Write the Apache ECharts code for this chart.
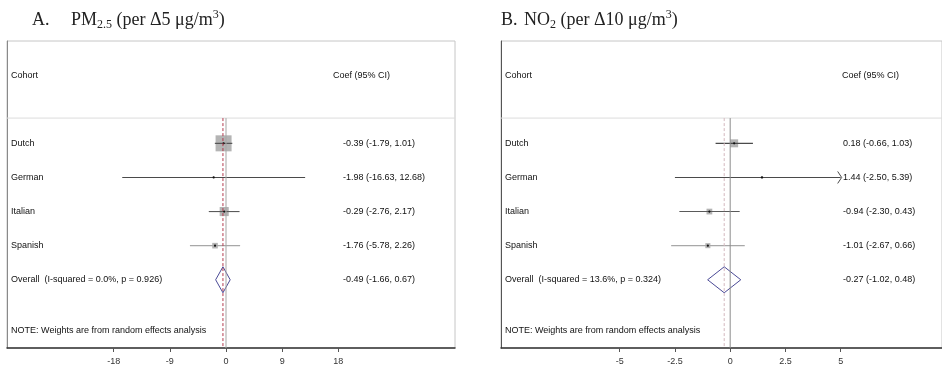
<!DOCTYPE html>
<html>
<head>
<meta charset="utf-8">
<script src="https://cdn.jsdelivr.net/npm/echarts@6/dist/echarts.min.js"></script>
<style>
  html, body { margin: 0; padding: 0; background: #fff; }
  #chart { width: 942px; height: 367px; }
</style>
</head>
<body>
<div id="chart"></div>
<script>
// Cohort-level estimates (coefficient and 95% CI) for each exposure
const cohorts = ['Dutch', 'German', 'Italian', 'Spanish'];

const pmCoef   = [-0.39, -1.98, -0.29, -1.76];
const pmLower  = [-1.79, -16.63, -2.76, -5.78];
const pmUpper  = [1.01, 12.68, 2.17, 2.26];
const pmWeight = [68.9, 0.6, 22.1, 8.4];          // random-effects weights (%)
const pmOverall = [-0.49, -1.66, 0.67];           // pooled coef, lower, upper
const pmHet = 'Overall  (I-squared = 0.0%, p = 0.926)';
const pmTicks = [-18, -9, 0, 9, 18];

const no2Coef   = [0.18, 1.44, -0.94, -1.01];
const no2Lower  = [-0.66, -2.50, -2.30, -2.67];
const no2Upper  = [1.03, 5.39, 0.43, 0.66];
const no2Weight = [50, 4, 26, 20];
const no2Overall = [-0.27, -1.02, 0.48];
const no2Het = 'Overall  (I-squared = 13.6%, p = 0.324)';
const no2Ticks = [-5, -2.5, 0, 2.5, 5];

const noteText = 'NOTE: Weights are from random effects analysis';

// Row layout on the vertical value axis (inverse)
const ROW_HEADER = -1, ROW_SEP = 0.26, ROW_OVERALL = 5, ROW_NOTE = 6.5, ROW_END = 7;

const SANS = '"Liberation Sans", Arial, sans-serif';
const SERIF = '"Liberation Serif", "DejaVu Serif", serif';
const ciColor = { Dutch: '#4a4a4a', German: '#4a4a4a', Italian: '#5a5a5a', Spanish: '#a8a8a8' };

const fmt = (c, l, u) => `${c.toFixed(2)} (${l.toFixed(2)}, ${u.toFixed(2)})`;

const panels = [
  {
    coef: pmCoef, lower: pmLower, upper: pmUpper, weight: pmWeight, overall: pmOverall, het: pmHet, ticks: pmTicks,
    grid: { left: 7, top: 41, width: 448, height: 307 },
    xMin: -35.1, xMax: 36.7,
    labelX: -34.45, headX: 17.15, valX: 18.75,
    boxScale: 1.93,
    zeroColor: '#a6a6a6', refColor: '#b23a4e', leftLine: '#8a8a8a'
  },
  {
    coef: no2Coef, lower: no2Lower, upper: no2Upper, weight: no2Weight, overall: no2Overall, het: no2Het, ticks: no2Ticks,
    grid: { left: 501, top: 41, width: 446, height: 307 },
    xMin: -10.37, xMax: 9.585,
    labelX: -10.19, headX: 5.06, valX: 5.11,
    boxScale: 1.13,
    zeroColor: '#8c8c8c', refColor: '#d4b9be', leftLine: '#555555'
  }
];

const grids = [], xAxes = [], yAxes = [], series = [];

panels.forEach((p, k) => {
  grids.push(Object.assign({ show: true, borderColor: '#c6c6c6', borderWidth: 1, backgroundColor: '#fff' }, p.grid));
  xAxes.push({
    gridIndex: k, type: 'value', min: p.xMin, max: p.xMax,
    axisLine: { show: true, onZero: false, lineStyle: { color: '#333', width: 1.5 } },
    axisTick: { show: true, customValues: p.ticks, length: 4, lineStyle: { color: '#555' } },
    axisLabel: { customValues: p.ticks, formatter: v => String(v), color: '#333', fontSize: 9, fontFamily: SANS, margin: 9 },
    splitLine: { show: false }
  });
  yAxes.push({
    gridIndex: k, type: 'value', min: -2, max: ROW_END, inverse: true,
    axisLine: { show: true, onZero: false, lineStyle: { color: p.leftLine, width: 1 } },
    axisTick: { show: false }, axisLabel: { show: false }, splitLine: { show: false }
  });

  const lim0 = p.ticks[0], lim1 = p.ticks[p.ticks.length - 1];

  // Header separator
  series.push({
    type: 'custom', xAxisIndex: k, yAxisIndex: k, z: 1, silent: true,
    data: [[p.xMin, ROW_SEP, p.xMax]],
    renderItem: (params, api) => {
      const a = api.coord([api.value(0), api.value(1)]);
      const b = api.coord([api.value(2), api.value(1)]);
      return { type: 'line', shape: { x1: a[0], y1: a[1], x2: b[0], y2: b[1] }, style: { stroke: '#dcdcdc', lineWidth: 1 } };
    }
  });

  // Cohort estimates: CI line, weighted box, point
  series.push({
    type: 'custom', xAxisIndex: k, yAxisIndex: k, z: 3, silent: true,
    data: cohorts.map((n, i) => [i + 1, p.coef[i], p.lower[i], p.upper[i], p.weight[i]]),
    renderItem: (params, api) => {
      const row = api.value(0), c = api.value(1), l = api.value(2), u = api.value(3), w = api.value(4);
      const color = ciColor[cohorts[params.dataIndex]];
      const p0 = api.coord([Math.max(l, lim0), row]);
      const p1 = api.coord([Math.min(u, lim1), row]);
      const pc = api.coord([c, row]);
      const side = p.boxScale * Math.sqrt(w);
      const children = [
        { type: 'rect', shape: { x: pc[0] - side / 2, y: pc[1] - side / 2, width: side, height: side }, style: { fill: '#b4b4b4' } },
        { type: 'line', shape: { x1: p0[0], y1: p0[1], x2: p1[0], y2: p1[1] }, style: { stroke: color, lineWidth: 1.1 } },
        { type: 'circle', shape: { cx: pc[0], cy: pc[1], r: 1.1 }, style: { fill: '#111' } }
      ];
      if (u > lim1) {
        children.push({ type: 'polyline', shape: { points: [[p1[0] - 3, p1[1] - 6], [p1[0] + 1, p1[1]], [p1[0] - 3, p1[1] + 6]] },
          style: { stroke: color, fill: null, lineWidth: 1 } });
      }
      if (l < lim0) {
        children.push({ type: 'polyline', shape: { points: [[p0[0] + 3, p0[1] - 6], [p0[0] - 1, p0[1]], [p0[0] + 3, p0[1] + 6]] },
          style: { stroke: color, fill: null, lineWidth: 1 } });
      }
      return { type: 'group', children };
    }
  });

  // Pooled estimate diamond
  series.push({
    type: 'custom', xAxisIndex: k, yAxisIndex: k, z: 3, silent: true,
    data: [[ROW_OVERALL, p.overall[0], p.overall[1], p.overall[2]]],
    renderItem: (params, api) => {
      const row = api.value(0);
      const c = api.coord([api.value(1), row]);
      const l = api.coord([api.value(2), row]);
      const u = api.coord([api.value(3), row]);
      return {
        type: 'polygon',
        shape: { points: [[l[0], l[1]], [c[0], c[1] - 13], [u[0], u[1]], [c[0], c[1] + 13]] },
        style: { stroke: '#4b4a96', fill: null, lineWidth: 1 }
      };
    }
  });

  // Null line and pooled-effect reference line
  series.push({
    type: 'custom', xAxisIndex: k, yAxisIndex: k, z: 4, silent: true,
    data: [[0, 0], [p.overall[0], 1]],
    renderItem: (params, api) => {
      const x = api.value(0), dashed = api.value(1) === 1;
      const a = api.coord([x, ROW_SEP]);
      const b = api.coord([x, ROW_END]);
      return {
        type: 'line', shape: { x1: a[0], y1: a[1], x2: b[0], y2: b[1] },
        style: dashed ? { stroke: p.refColor, lineWidth: 1, lineDash: [3, 2] } : { stroke: p.zeroColor, lineWidth: 1 }
      };
    }
  });

  // Text columns
  const texts = [
    { x: p.labelX, row: ROW_HEADER, t: 'Cohort' },
    { x: p.headX, row: ROW_HEADER, t: 'Coef (95% CI)' }
  ];
  cohorts.forEach((n, i) => {
    texts.push({ x: p.labelX, row: i + 1, t: n });
    texts.push({ x: p.valX, row: i + 1, t: fmt(p.coef[i], p.lower[i], p.upper[i]) });
  });
  texts.push({ x: p.labelX, row: ROW_OVERALL, t: p.het });
  texts.push({ x: p.valX, row: ROW_OVERALL, t: fmt(p.overall[0], p.overall[1], p.overall[2]) });
  texts.push({ x: p.labelX, row: ROW_NOTE, t: noteText });

  series.push({
    type: 'custom', xAxisIndex: k, yAxisIndex: k, z: 5, silent: true,
    data: texts.map(d => [d.x, d.row]),
    renderItem: (params, api) => {
      const pt = api.coord([api.value(0), api.value(1)]);
      return {
        type: 'text', x: pt[0], y: pt[1],
        style: { text: texts[params.dataIndex].t, fill: '#111', fontSize: 9, fontFamily: SANS, align: 'left', verticalAlign: 'middle' }
      };
    }
  });
});

const titleRich = {
  n: { fontSize: 18, fontFamily: SERIF, color: '#222', lineHeight: 22 },
  s: { fontSize: 12, fontFamily: SERIF, color: '#222', lineHeight: 16, verticalAlign: 'bottom' },
  p: { fontSize: 12, fontFamily: SERIF, color: '#222', lineHeight: 16, verticalAlign: 'top' }
};

const chart = echarts.init(document.getElementById('chart'), null, { renderer: 'canvas' });
chart.setOption({
  animation: false,
  backgroundColor: '#fff',
  title: [
    { text: 'A.', left: 32, top: 9, padding: 0, textStyle: { fontSize: 18, fontFamily: SERIF, color: '#222', fontWeight: 'normal', lineHeight: 22 } },
    { text: '{n|PM}{s|2.5}{n| (per Δ5 μg/m}{p|3}{n|)}', left: 71, top: 9, padding: 0, textStyle: { rich: titleRich, fontWeight: 'normal' } },
    { text: 'B.', left: 501, top: 9, padding: 0, textStyle: { fontSize: 18, fontFamily: SERIF, color: '#222', fontWeight: 'normal', lineHeight: 22 } },
    { text: '{n|NO}{s|2}{n| (per Δ10 μg/m}{p|3}{n|)}', left: 524, top: 9, padding: 0, textStyle: { rich: titleRich, fontWeight: 'normal' } }
  ],
  grid: grids,
  xAxis: xAxes,
  yAxis: yAxes,
  series
});
</script>
</body>
</html>
